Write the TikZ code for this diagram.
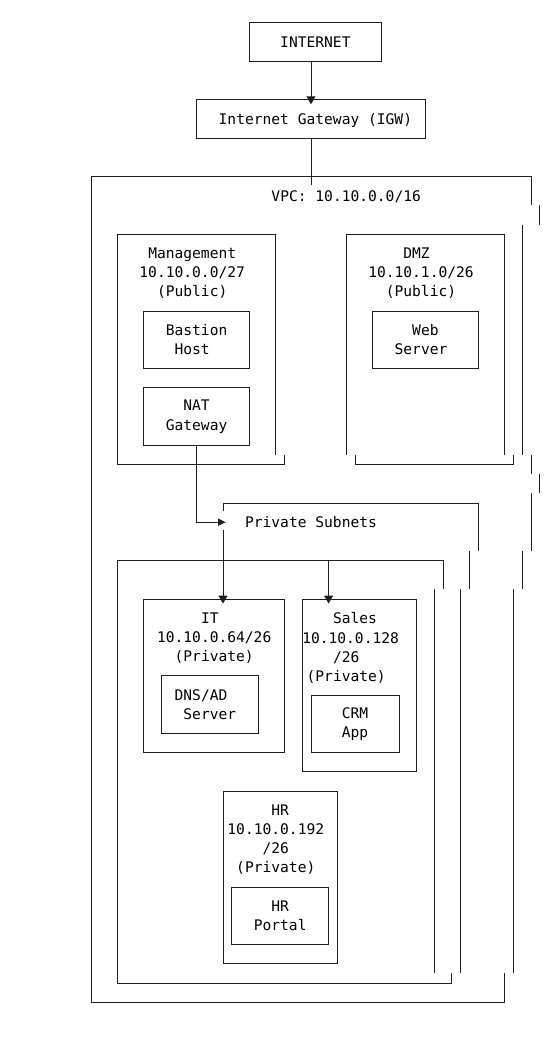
\documentclass[tikz,border=0pt]{standalone}
\usepackage{fontspec}
\setmonofont{DejaVu Sans Mono}
\usetikzlibrary{arrows.meta}
\definecolor{ink}{RGB}{30,30,30}
\newcommand{\pad}{\hphantom{0}}

\begin{document}
\begin{tikzpicture}[
  x=8.8pt, y=-19.2pt,
  font=\ttfamily\fontsize{14.6pt}{19.2pt}\selectfont,
  box/.style 2 args={
    rectangle, draw=ink, line width=1pt, inner sep=0pt, outer sep=0pt,
    minimum width=#1*8.8pt, minimum height=#2*19.2pt, align=center
  },
  oneline/.style={text height=10.7pt, text depth=0pt},
  title/.style={inner sep=0pt, outer sep=0pt, align=center},
  wire/.style={draw=ink, line width=1pt},
  arr/.style={wire, -{Triangle[length=8pt,width=9pt]}, shorten >=-4.5pt},
  harr/.style={wire, -{Triangle[length=7.5pt,width=7pt]}, shorten >=-2.7pt},
]
\useasboundingbox (-10.341,-1.198) rectangle (53.182,53.438);

% top of the chain
\node[box={15}{2}, oneline] (inet) at (25.5,1) {INTERNET};
\node[box={26}{2}, oneline] (igw) at (25,5) {\pad Internet Gateway (IGW)};

% VPC outline, right edge drifts row by row
\draw[wire] (0,51) -- (0,8) -- (50,8) -- (50,9.5);
\draw[wire] (51,9.5) -- (51,10.5) (49,10.5) -- (49,22.5) (50,22.5) -- (50,23.5)
  (51,23.5) -- (51,24.5) (50,24.5) -- (50,27.5) (49,27.5) -- (49,29.5)
  (48,29.5) -- (48,49.5);
\draw[wire] (47,49.5) -- (47,51) -- (0,51);
\coordinate (vpc-in) at (25,8.45);
\node[title, oneline] (vpc) at (29,9) {VPC: 10.10.0.0/16};

% public subnets
\draw[wire] (21,22.5) -- (21,11) -- (3,11) -- (3,23) -- (22,23) -- (22,22.5);
\node[title, anchor=north] (mgmt) at (11.5,11.71) {Management\\10.10.0.0/27\\(Public)};
\node[box={12}{3}] (bast) at (12,16.5) {Bastion\\Host\pad};
\node[box={12}{3}] (nat) at (12,20.5) {NAT\\Gateway};

\draw[wire] (29,22.5) -- (29,11) -- (47,11) -- (47,22.5);
\draw[wire] (30,22.5) -- (30,23) -- (48,23) -- (48,22.5);
\node[title, anchor=north] (dmz) at (37.5,11.71) {DMZ\pad\\10.10.1.0/26\\(Public)};
\node[box={12}{3}] (web) at (38,16.5) {Web\\Server\pad};

% private subnets
\draw[wire] (15,25.42) -- (15,25) -- (44,25) -- (44,27.5) (43,27.5) -- (43,29.5)
  (42,29.5) -- (42,49.5);
\coordinate (ps-in) at (15,26);
\coordinate (ps-out) at (15,26.42);
\node[title, oneline] (priv) at (25,26) {Private Subnets};

\draw[wire] (39,29.5) -- (39,49.5) (41,49.5) -- (41,50) -- (3,50) -- (3,28) -- (40,28) -- (40,29.5);
\coordinate (ct-sales) at (27,28);

\node[box={16}{8}] (it) at (14,34) {};
\node[title, anchor=north] (it-t) at (14,30.71) {IT\pad\\10.10.0.64/26\\(Private)};
\node[box={11}{3}] (dns) at (13.5,35.5) {DNS/AD\pad\pad\\Server};

\node[box={13}{9}] (sales) at (30.5,34.5) {};
\node[title, anchor=north] (sales-t) at (30,30.71) {Sales\\10.10.0.128\pad\\/26\pad\pad\\(Private)\pad\pad};
\node[box={10}{3}] (crm) at (30,36.5) {CRM\\App};

\node[box={13}{9}] (hr) at (21.5,44.5) {};
\node[title, anchor=north] (hr-t) at (21,40.71) {\pad HR\\10.10.0.192\\/26\\(Private)};
\node[box={11}{3}] (hrp) at (21.5,46.5) {HR\\Portal};

% connectors
\draw[arr] (igw.north |- inet.south) -- (igw.north);
\draw[wire] (igw) -- (vpc-in);
\draw[harr] (nat) |- (ps-in);
\draw[arr] (ps-out) -- (ps-out |- it.north);
\draw[arr] (ct-sales) -- (ct-sales |- sales.north);

\end{tikzpicture}
\end{document}
